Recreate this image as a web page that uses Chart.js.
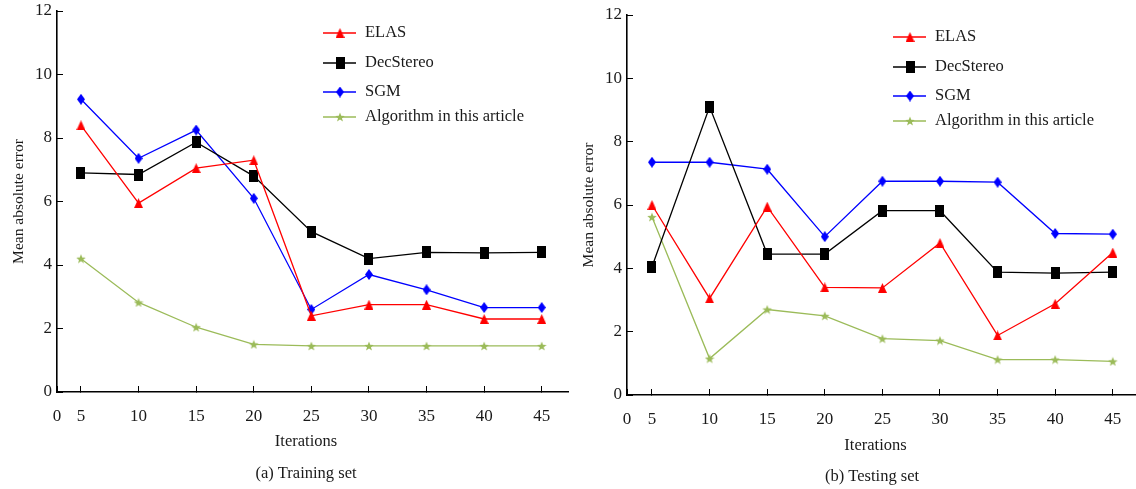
<!DOCTYPE html>
<html>
<head>
<meta charset="utf-8">
<script src="https://cdn.jsdelivr.net/npm/chart.js@4/dist/chart.umd.min.js"></script>
<style>
  body { margin: 0; background: #fff; }
  .box { position: absolute; top: 0; }
</style>
</head>
<body>
<div class="box" style="left:0"><canvas id="trainChart" width="570" height="489"></canvas></div>
<div class="box" style="left:570px"><canvas id="testChart" width="566" height="489"></canvas></div>
<script>
// ======================================
// DATOS
// ======================================

const iteraciones = [5, 10, 15, 20, 25, 30, 35, 40, 45];
const yTicks = [0, 2, 4, 6, 8, 10, 12];
const seriesNames = ["ELAS", "DecStereo", "SGM", "Algorithm in this article"];

// (a) Training set
const trainELAS = [8.4, 5.95, 7.05, 7.3, 2.4, 2.75, 2.75, 2.3, 2.3];
const trainDec = [6.9, 6.85, 7.87, 6.8, 5.05, 4.2, 4.4, 4.38, 4.4];
const trainSGM = [9.22, 7.36, 8.25, 6.1, 2.6, 3.7, 3.22, 2.66, 2.66];
const trainAlg = [4.2, 2.82, 2.04, 1.5, 1.45, 1.45, 1.45, 1.45, 1.45];

// (b) Testing set
const testELAS = [6.0, 3.05, 5.95, 3.4, 3.38, 4.8, 1.88, 2.88, 4.5];
const testDec = [4.05, 9.1, 4.45, 4.45, 5.82, 5.82, 3.88, 3.85, 3.88];
const testSGM = [7.35, 7.35, 7.13, 5.0, 6.75, 6.75, 6.72, 5.1, 5.08];
const testAlg = [5.62, 1.15, 2.7, 2.5, 1.78, 1.72, 1.12, 1.12, 1.06];

const colores = ["#ff0000", "#000000", "#0000ff", "#9bbb59"];
const FONT = "'Liberation Serif', 'Times New Roman', serif";

// ======================================
// MARCADORES
// ======================================

function marcador(tipo, color, w, h) {
  const c = document.createElement("canvas");
  c.width = w; c.height = h;
  const ctx = c.getContext("2d");
  ctx.fillStyle = color;
  ctx.beginPath();
  if (tipo === "tri") {
    ctx.moveTo(w / 2, 0); ctx.lineTo(w, h); ctx.lineTo(0, h);
  } else if (tipo === "rect") {
    ctx.rect(0, 0, w, h);
  } else if (tipo === "diamond") {
    ctx.moveTo(w / 2, 0); ctx.lineTo(w, h / 2); ctx.lineTo(w / 2, h); ctx.lineTo(0, h / 2);
  } else {
    const cx = w / 2, cy = h / 2 + 0.5, R = w / 2, r = R * 0.42;
    for (let i = 0; i < 10; i++) {
      const a = -Math.PI / 2 + i * Math.PI / 5;
      const rr = i % 2 ? r : R;
      ctx.lineTo(cx + rr * Math.cos(a), cy + rr * Math.sin(a));
    }
  }
  ctx.closePath();
  ctx.fill();
  return c;
}

const marcadores = [
  marcador("tri", colores[0], 9, 10),
  marcador("rect", colores[1], 9, 12),
  marcador("diamond", colores[2], 8, 11),
  marcador("star", colores[3], 10, 10)
];

// ======================================
// LEYENDA DENTRO DEL AREA
// ======================================

const leyendaPlugin = {
  id: "leyendaInterna",
  afterDraw(chart) {
    const { ctx, chartArea } = chart;
    const x0 = chartArea.left + 266;
    const filas = [22, 52, 81, 106];
    ctx.save();
    ctx.font = "16.5px " + FONT;
    ctx.textBaseline = "middle";
    ctx.fillStyle = "#1a1a1a";
    seriesNames.forEach((nombre, i) => {
      const y = chartArea.top + filas[i];
      ctx.strokeStyle = colores[i];
      ctx.lineWidth = 1.3;
      ctx.beginPath();
      ctx.moveTo(x0, y); ctx.lineTo(x0 + 33, y);
      ctx.stroke();
      const m = marcadores[i];
      ctx.drawImage(m, x0 + 17 - m.width / 2, y - m.height / 2);
      ctx.fillText(nombre, x0 + 42, y);
    });
    ctx.restore();
  }
};

// ======================================
// ROTULOS INFERIORES (eje x y subtitulo)
// ======================================

const rotulosPlugin = {
  id: "rotulos",
  afterDraw(chart, args, opts) {
    const { ctx, chartArea } = chart;
    ctx.save();
    ctx.font = "16.5px " + FONT;
    ctx.textAlign = "center";
    ctx.textBaseline = "middle";
    ctx.fillStyle = "#1a1a1a";
    ctx.fillText("Iterations", chartArea.left + opts.xTitle, chartArea.bottom + opts.yTitle);
    ctx.fillText(opts.caption, chartArea.left + opts.xCap, chartArea.bottom + opts.yCap);
    ctx.restore();
  }
};

// ======================================
// GRAFICO
// ======================================

function crearGrafico(id, valores, lay) {
  const xMin = lay.xMin, xMax = lay.xMax;
  new Chart(document.getElementById(id), {
    type: "line",
    data: {
      datasets: valores.map((serie, i) => ({
        label: seriesNames[i],
        data: iteraciones.map((x, j) => ({ x: x, y: serie[j] })),
        borderColor: colores[i],
        backgroundColor: colores[i],
        borderWidth: 1.3,
        pointStyle: marcadores[i],
        pointRadius: 5,
        tension: 0
      }))
    },
    options: {
      responsive: false,
      animation: false,
      layout: { autoPadding: false, padding: { top: lay.top, right: lay.right, left: 0, bottom: 0 } },
      plugins: {
        legend: { display: false },
        tooltip: { enabled: false },
        rotulos: lay.rotulos
      },
      scales: {
        x: {
          type: "linear",
          min: xMin,
          max: xMax,
          afterFit: s => { s.height = lay.xH; s.paddingLeft = 0; s.paddingRight = 0; },
          afterBuildTicks: s => {
            s.ticks = [xMin].concat(iteraciones).map(v => ({ value: v }));
          },
          ticks: {
            color: "#1a1a1a",
            font: { family: FONT, size: 17 },
            padding: 20,
            maxRotation: 0,
            autoSkip: false,
            callback: v => (v === xMin ? "0" : String(v))
          },
          grid: { drawOnChartArea: false, tickLength: -6, color: "#000", lineWidth: 1 },
          border: { color: "#000", width: 1.6 }
        },
        y: {
          min: 0,
          max: 12,
          afterFit: s => { s.width = 57; s.paddingTop = 0; s.paddingBottom = 0; },
          afterBuildTicks: s => { s.ticks = yTicks.map(v => ({ value: v })); },
          ticks: {
            color: "#1a1a1a",
            font: { family: FONT, size: 17 },
            padding: 11
          },
          grid: { drawOnChartArea: false, tickLength: -6, color: "#000", lineWidth: 1 },
          border: { color: "#000", width: 1.6 },
          title: {
            display: true,
            text: "Mean absolute error",
            color: "#1a1a1a",
            font: { family: FONT, size: 15.5 },
            padding: { top: 10, bottom: 0 }
          }
        }
      }
    },
    plugins: [leyendaPlugin, rotulosPlugin]
  });
}

crearGrafico("trainChart", [trainELAS, trainDec, trainSGM, trainAlg],
  { top: 11, right: 2, xMin: 2.92, xMax: 47.28, xH: 97,
    rotulos: { caption: "(a) Training set", xTitle: 249, yTitle: 50, xCap: 249, yCap: 82 } });
crearGrafico("testChart", [testELAS, testDec, testSGM, testAlg],
  { top: 15, right: 1, xMin: 2.83, xMax: 46.93, xH: 94,
    rotulos: { caption: "(b) Testing set", xTitle: 248.5, yTitle: 51, xCap: 245, yCap: 82 } });
</script>
</body>
</html>
